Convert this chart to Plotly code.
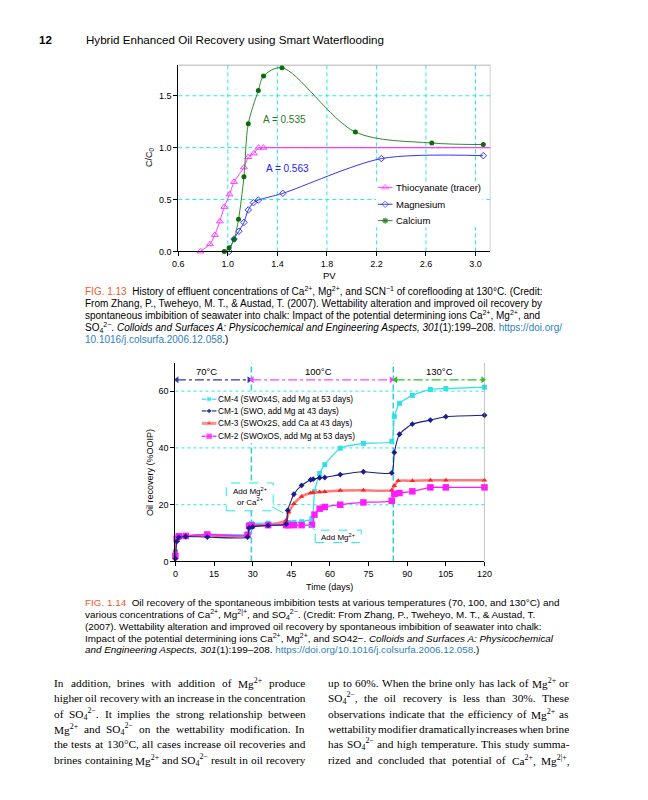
import re
import plotly.graph_objects as go

# The page body adds an 8px margin, so the figure is 8px smaller and all page coords shift by 8.
OX, OY = 8, 8
W, H = 640, 792
def px(x): return (x - OX) / W
def py(y): return 1 - (y - OY) / H

SANS = "Liberation Sans, Arial, sans-serif"
SERIF = "Liberation Serif, Times New Roman, serif"

# ---------------- Chart 1 data (FIG 1.13) ----------------
scn_pv = [0.778, 0.856, 0.895, 0.935, 0.971, 1.013, 1.05, 1.13, 1.165, 1.21, 1.248, 1.287]
scn_c = [0.0, 0.07, 0.16, 0.29, 0.43, 0.55, 0.67, 0.81, 0.91, 0.945, 1.0, 1.0]
tracer_plateau = 1.0
mg_pv = [1.01, 1.05, 1.089, 1.13, 1.165, 1.207, 1.246, 1.444, 2.24, 3.063]
mg_c = [0.0, 0.12, 0.195, 0.28, 0.40, 0.47, 0.495, 0.56, 0.895, 0.923]
ca_pv = [0.971, 1.01, 1.05, 1.086, 1.13, 1.165, 1.246, 1.288, 1.437, 2.03, 2.647, 3.063]
ca_c = [0.0, 0.035, 0.115, 0.31, 0.72, 1.23, 1.55, 1.69, 1.77, 1.15, 1.045, 1.03]
pv_ticks = [0.6, 1.0, 1.4, 1.8, 2.2, 2.6, 3.0]
c_ticks = [0.0, 0.5, 1.0, 1.5]
pv_range = [0.6, 3.12]
c_range = [0, 1.8]

# ---------------- Chart 2 data (FIG 1.14) ----------------
cm4_t = [0, 0.5, 1.3, 4, 12.4, 28, 28.6, 29.6, 36, 43, 44, 46, 49, 53, 54, 56, 58, 64, 73, 84, 85, 87, 92, 99, 105, 120]
cm4_y = [3.4, 7.5, 8.5, 9.0, 9.6, 9.8, 13.0, 13.4, 13.5, 13.6, 13.7, 13.8, 14.0, 15.1, 24.6, 31.0, 34.1, 39.9, 41.6, 42.3, 51.1, 55.7, 58.5, 60.6, 60.9, 61.4]
cm1_t = [0, 0.5, 1.3, 4, 12.4, 28, 28.6, 30, 36, 43, 43.6, 46, 49, 52.5, 53.5, 56, 58, 64, 73, 84, 85, 87, 92, 99, 105, 120]
cm1_y = [1.0, 7.0, 8.5, 8.8, 8.6, 8.6, 11.8, 12.2, 12.7, 13.2, 18.0, 23.7, 26.8, 28.8, 29.0, 29.5, 29.6, 30.6, 31.6, 31.2, 38.4, 44.8, 48.4, 49.8, 51.0, 51.5]
cm3_t = [0, 0.5, 1.3, 4, 12.4, 28, 28.6, 30, 36, 43, 44, 46, 49, 52.5, 53.5, 56, 58, 64, 73, 84, 85, 86.5, 92, 99, 105, 120]
cm3_y = [4.0, 7.8, 8.7, 9.0, 9.2, 9.2, 12.5, 12.7, 12.8, 14.5, 17.3, 20.3, 22.9, 24.1, 24.3, 24.5, 24.6, 25.0, 25.1, 25.1, 26.7, 28.4, 28.4, 28.6, 28.6, 28.6]
cm2_t = [0, 0.5, 1.3, 4, 12.4, 28, 28.6, 29.6, 36, 43, 44, 46, 49, 53, 54, 56, 58, 64, 73, 84, 85, 87, 92, 99, 105, 120]
cm2_y = [2.0, 8.0, 8.9, 9.0, 9.5, 9.3, 12.5, 12.7, 12.8, 12.8, 12.8, 12.8, 12.8, 13.0, 16.5, 18.6, 19.2, 20.0, 20.8, 21.4, 23.8, 24.1, 24.7, 26.1, 26.1, 26.1]
day_ticks = [0, 15, 30, 45, 60, 75, 90, 105, 120]
rec_ticks = [0, 20, 40, 60]
day_range = [0, 120]
rec_range = [0, 70]
temp_labels = ["70°C", "100°C", "130°C"]
temp_start = [0.6, 29.8, 85.5]
temp_end = [28.6, 83.8, 119.4]
temp_label_x = [12, 55.5, 102.5]
temp_arrow_y = 64
temp_colors = ["#3535a8", "#ff44ff", "#22c422"]
temp_change_days = [29.5, 84.6]

# plot-area boxes in page pixels (left, right, top, bottom)
BOX1 = (176, 495, 65, 253)
BOX2 = (173, 489, 365, 565)

def page_to_data(box, xr, yr, x, y):
    l, r, t, b = box
    return (xr[0] + (x - l) / (r - l) * (xr[1] - xr[0]),
            yr[0] + (b - y) / (b - t) * (yr[1] - yr[0]))

fig = go.Figure()

# ---- chart 1 traces ----
C_SCN = "#ff3cff"
C_MG = "#3535ff"
fig.add_trace(go.Scatter(x=[scn_pv[-1], pv_range[1]], y=[tracer_plateau, tracer_plateau], mode="lines",
                         line=dict(color=C_SCN, width=1.2), xaxis="x", yaxis="y", showlegend=False))
fig.add_trace(go.Scatter(x=scn_pv, y=scn_c, mode="lines+markers",
                         line=dict(color=C_SCN, width=1, shape="spline", smoothing=0.4),
                         marker=dict(symbol="triangle-up-open", size=6, color=C_SCN, line=dict(width=1)),
                         xaxis="x", yaxis="y", showlegend=False, cliponaxis=False))
fig.add_trace(go.Scatter(x=mg_pv, y=mg_c, mode="lines+markers",
                         line=dict(color=C_MG, width=1, shape="spline", smoothing=0.8),
                         marker=dict(symbol="diamond-open", size=5, color=C_MG, line=dict(width=1)),
                         xaxis="x", yaxis="y", showlegend=False, cliponaxis=False))
fig.add_trace(go.Scatter(x=ca_pv, y=ca_c, mode="lines+markers",
                         line=dict(color="#2e8b2e", width=1, shape="spline", smoothing=0.9),
                         marker=dict(symbol="circle", size=5, color="#0b6b0b"),
                         xaxis="x", yaxis="y", showlegend=False, cliponaxis=False))

# ---- chart 2 traces ----
C4, C1, C3, C2 = "#30e0e8", "#1c1c8a", "#ff2222", "#ff1aff"
fig.add_trace(go.Scatter(x=cm4_t, y=cm4_y, mode="lines+markers",
                         line=dict(color=C4, width=1.2, shape="spline", smoothing=0.5),
                         marker=dict(symbol="square", size=5, color=C4),
                         xaxis="x2", yaxis="y2", showlegend=False, cliponaxis=False))
fig.add_trace(go.Scatter(x=cm3_t, y=cm3_y, mode="lines+markers",
                         line=dict(color="#ff7a7a", width=2.5, shape="spline", smoothing=0.5),
                         marker=dict(symbol="triangle-up", size=5, color=C3),
                         xaxis="x2", yaxis="y2", showlegend=False, cliponaxis=False))
fig.add_trace(go.Scatter(x=cm2_t, y=cm2_y, mode="lines+markers",
                         line=dict(color=C2, width=1.3, shape="spline", smoothing=0.5),
                         marker=dict(symbol="square", size=6.5, color=C2),
                         xaxis="x2", yaxis="y2", showlegend=False, cliponaxis=False))
fig.add_trace(go.Scatter(x=cm1_t, y=cm1_y, mode="lines+markers",
                         line=dict(color=C1, width=1.1, shape="spline", smoothing=0.5),
                         marker=dict(symbol="diamond", size=4.5, color=C1),
                         xaxis="x2", yaxis="y2", showlegend=False, cliponaxis=False))

# temperature arrows
for i in range(3):
    fig.add_trace(go.Scatter(x=[temp_start[i], temp_end[i]], y=[temp_arrow_y, temp_arrow_y],
                             mode="lines+markers",
                             line=dict(color=temp_colors[i], width=1.2, dash="dashdot"),
                             marker=dict(symbol=["triangle-left", "triangle-right"], size=6, color=temp_colors[i]),
                             xaxis="x2", yaxis="y2", showlegend=False, cliponaxis=False))

# ---- custom legends on full-page overlay axis (page pixel coords) ----
def legend_glyph(x0, x1, yrow, lcolor, lwidth, symbol, msize, mcolor, mline=None):
    mk = dict(symbol=symbol, size=[0, msize, 0], color=mcolor)
    if mline:
        mk["line"] = dict(width=1, color=mline)
    fig.add_trace(go.Scatter(x=[x0, (x0 + x1) / 2, x1], y=[yrow] * 3, mode="lines+markers",
                             line=dict(color=lcolor, width=lwidth), marker=mk,
                             xaxis="x3", yaxis="y3", showlegend=False, cliponaxis=False))

leg1_names = ["Thiocyanate (tracer)", "Magnesium", "Calcium"]
leg1_rows = [188.5, 205.5, 222]
legend_glyph(380, 395, leg1_rows[0], C_SCN, 1, "triangle-up-open", 6, C_SCN, C_SCN)
legend_glyph(380, 395, leg1_rows[1], C_MG, 1, "diamond-open", 5, C_MG, C_MG)
legend_glyph(380, 395, leg1_rows[2], "#2e8b2e", 1, "circle", 5, "#0b6b0b")

leg2_names = ["CM-4 (SWOx4S, add Mg at 53 days)", "CM-1 (SWO, add Mg at 43 days)",
              "CM-3 (SWOx2S, add Ca at 43 days)", "CM-2 (SWOxOS, add Mg at 53 days)"]
leg2_rows = [401.7, 413.5, 426, 439]
legend_glyph(200, 215, leg2_rows[0], C4, 1.2, "square", 5, C4)
legend_glyph(200, 215, leg2_rows[1], C1, 1.1, "diamond", 4.5, C1)
legend_glyph(200, 215, leg2_rows[2], "#ff9090", 3, "triangle-up", 5, C3)
legend_glyph(200, 215, leg2_rows[3], C2, 1.3, "square", 6.5, C2)

annotations = []
PAD = 3  # annotation inner padding for left-anchored text
def text(x, y, s, size=9, color="black", family=SANS, xanchor="left", yanchor="middle", angle=0):
    xx = x - PAD if xanchor == "left" else x
    annotations.append(dict(x=px(xx), y=py(y), xref="paper", yref="paper", text=s, showarrow=False,
                            xanchor=xanchor, yanchor=yanchor, textangle=angle,
                            font=dict(size=size, color=color, family=family)))

for n, r in zip(leg1_names, leg1_rows):
    text(399, r, n, size=9.5)
for n, r in zip(leg2_names, leg2_rows):
    text(218, r, n, size=8.3)

# header
text(40, 40, "<b>12</b>", size=11.5, xanchor="center")
text(83, 40, "Hybrid Enhanced Oil Recovery using Smart Waterflooding", size=11.6)

# chart 1 texts
text(146, 158, "C/C<sub>0</sub>", size=9, xanchor="center", angle=-90)
text(331, 277, "PV", size=9.5, xanchor="center")
annotations.append(dict(x=1.46, y=1.27, xref="x", yref="y", text="A = 0.535", showarrow=False,
                        font=dict(size=10, color="#1e7d1e", family=SANS)))
annotations.append(dict(x=1.48, y=0.80, xref="x", yref="y", text="A = 0.563", showarrow=False,
                        font=dict(size=10, color="#2020ff", family=SANS)))

# chart 2 texts
text(147, 475, "Oil recovery (%OOIP)", size=9, xanchor="center", angle=-90)
text(331, 591, "Time (days)", size=9, xanchor="center")
for lab, lx in zip(temp_labels, temp_label_x):
    annotations.append(dict(x=lx, y=67, xref="x2", yref="y2", text=lab, showarrow=False,
                            font=dict(size=9.5, color="black", family=SANS)))
text(249, 500, "Add Mg<sup>2+</sup><br>or Ca<sup>2+</sup>", size=8, xanchor="center")
text(339.5, 540, "Add Mg<sup>2+</sup>", size=8, xanchor="center")

# captions
ORANGE = "#f0592b"
BLUE = "#2f7fc0"
cap1 = [
    f"<span style='color:{ORANGE}'>FIG. 1.13</span>  History of effluent concentrations of Ca<sup>2+</sup>, Mg<sup>2+</sup>, and SCN<sup>−1</sup> of coreflooding at 130°C. (Credit:",
    "From Zhang, P., Tweheyo, M. T., &amp; Austad, T. (2007). Wettability alteration and improved oil recovery by",
    "spontaneous imbibition of seawater into chalk: Impact of the potential determining ions Ca<sup>2+</sup>, Mg<sup>2+</sup>, and",
    f"SO<sub>4</sub><sup>2−</sup>. <i>Colloids and Surfaces A: Physicochemical and Engineering Aspects, 301</i>(1):199–208. <span style='color:{BLUE}'>https://doi.org/</span>",
    f"<span style='color:{BLUE}'>10.1016/j.colsurfa.2006.12.058</span>.)",
]
cap1_y = [293, 305, 317, 329.5, 341.5]
for s, yy in zip(cap1, cap1_y):
    text(82, yy, s, size=10)

cap2 = [
    f"<span style='color:{ORANGE}'>FIG. 1.14</span>  Oil recovery of the spontaneous imbibition tests at various temperatures (70, 100, and 130°C) and",
    "various concentrations of Ca<sup>2+</sup>, Mg<sup>2|+</sup>, and SO<sub>4</sub><sup>2−</sup>. (Credit: From Zhang, P., Tweheyo, M. T., &amp; Austad, T.",
    "(2007). Wettability alteration and improved oil recovery by spontaneous imbibition of seawater into chalk:",
    "Impact of the potential determining ions Ca<sup>2+</sup>, Mg<sup>2+</sup>, and SO42−. <i>Colloids and Surfaces A: Physicochemical</i>",
    f"<i>and Engineering Aspects, 301</i>(1):199–208. <span style='color:{BLUE}'>https://doi.org/10.1016/j.colsurfa.2006.12.058</span>.)",
]
cap2_y = [606, 618, 630, 642, 654]
for s, yy in zip(cap2, cap2_y):
    text(82, yy, s, size=9.9)

# body text (justified word by word, Times metrics)
body_left = [
    "In addition, brines with addition of Mg<sup>2+</sup> produce",
    "higher oil recovery with an increase in the concentration",
    "of SO<sub>4</sub><sup>2−</sup>. It implies the strong relationship between",
    "Mg<sup>2+</sup> and SO<sub>4</sub><sup>2−</sup> on the wettability modification. In",
    "the tests at 130°C, all cases increase oil recoveries and",
    "brines containing Mg<sup>2+</sup> and SO<sub>4</sub><sup>2−</sup> result in oil recovery",
]
body_right = [
    "up to 60%. When the brine only has lack of Mg<sup>2+</sup> or",
    "SO<sub>4</sub><sup>2−</sup>, the oil recovery is less than 30%. These",
    "observations indicate that the efficiency of Mg<sup>2+</sup> as",
    "wettability modifier dramatically increases when brine",
    "has SO<sub>4</sub><sup>2−</sup> and high temperature. This study summa-",
    "rized and concluded that potential of Ca<sup>2+</sup>, Mg<sup>2|+</sup>,",
]
body_y = [687, 702.5, 718, 733.5, 749, 764.5]
BODY_SIZE = 11.3
LEFT_COL = (50, 306)
RIGHT_COL = (330, 576)

TW = {" ": 250, ".": 250, ",": 250, ":": 278, ";": 278, "-": 333, "%": 833, "(": 333, ")": 333,
      "+": 564, "−": 564, "°": 400, "|": 200}
TW.update(dict(zip("abcdefghijklmnopqrstuvwxyz",
                   [444, 500, 444, 500, 444, 333, 500, 500, 278, 278, 500, 278, 778, 500, 500, 500, 500,
                    333, 389, 278, 500, 500, 722, 500, 500, 444])))
TW.update(dict(zip("ABCDEFGHIJKLMNOPQRSTUVWXYZ",
                   [722, 667, 667, 722, 611, 556, 722, 722, 333, 389, 722, 611, 889, 722, 722, 556, 722,
                    667, 556, 611, 722, 722, 944, 722, 722, 611])))
TW.update({d: 500 for d in "0123456789"})

def times_width(word, size):
    total = 0.0
    scale = 1.0
    for part in re.split(r"(<[^>]+>)", word):
        if part.startswith("<"):
            scale = 1.0 if part.startswith("</") else 0.7
            continue
        for ch in part:
            total += TW.get(ch, 500) * scale
    return total * size / 1000.0

def justified(lines, col, ys):
    x0, x1 = col
    for line, yy in zip(lines, ys):
        words = line.split(" ")
        widths = [times_width(w, BODY_SIZE) for w in words]
        gap = max((x1 - x0 - sum(widths)) / (len(words) - 1), 2.6)
        cx = x0
        for w, wd in zip(words, widths):
            text(cx, yy, w, size=BODY_SIZE, family=SERIF)
            cx += wd + gap

justified(body_left, LEFT_COL, body_y)
justified(body_right, RIGHT_COL, body_y)

# shapes: grids (drawn as shapes so the legend boxes can cover them), frames, callouts
CY = "#22eaea"
shapes = []
for v in pv_ticks[1:]:
    shapes.append(dict(type="line", xref="x", yref="y", x0=v, x1=v, y0=c_range[0], y1=c_range[1],
                       line=dict(color=CY, width=1, dash="4px,3px"), layer="below"))
for v in c_ticks[1:]:
    shapes.append(dict(type="line", xref="x", yref="y", x0=pv_range[0], x1=pv_range[1], y0=v, y1=v,
                       line=dict(color=CY, width=1, dash="4px,3px"), layer="below"))
for v in rec_ticks[1:]:
    shapes.append(dict(type="line", xref="x2", yref="y2", x0=day_range[0], x1=day_range[1], y0=v, y1=v,
                       line=dict(color=CY, width=1, dash="dot"), layer="below"))
for d in temp_change_days:
    shapes.append(dict(type="line", xref="x2", yref="y2", x0=d, x1=d, y0=rec_range[0], y1=rec_range[1],
                       line=dict(color="#30d0d0", width=1.5, dash="6px,3px"), layer="below"))

# legend backgrounds (same subplot layer, drawn after the grid so they cover it)
lx0, ly0 = page_to_data(BOX1, pv_range, c_range, 378, 229)
lx1, ly1 = page_to_data(BOX1, pv_range, c_range, 487, 183)
shapes.append(dict(type="rect", xref="x", yref="y", x0=lx0, x1=lx1, y0=ly0, y1=ly1,
                   line=dict(width=0), fillcolor="white", layer="below"))
lx0, ly0 = page_to_data(BOX2, day_range, rec_range, 197, 446)
lx1, ly1 = page_to_data(BOX2, day_range, rec_range, 362, 396)
shapes.append(dict(type="rect", xref="x2", yref="y2", x0=lx0, x1=lx1, y0=ly0, y1=ly1,
                   line=dict(width=0), fillcolor="white", layer="below"))

shapes += [
    # frames
    dict(type="line", xref="x", yref="y", x0=pv_range[0], x1=pv_range[1], y0=c_range[1], y1=c_range[1],
         line=dict(color="#9a9a9a", width=1.5)),
    dict(type="line", xref="x", yref="y", x0=pv_range[1], x1=pv_range[1], y0=c_range[0], y1=c_range[1],
         line=dict(color="#9a9a9a", width=1)),
    dict(type="line", xref="x2", yref="y2", x0=day_range[1], x1=day_range[1], y0=rec_range[0], y1=rec_range[1],
         line=dict(color="#8a8a8a", width=1)),
    # callout boxes
    dict(type="rect", xref="paper", yref="paper", x0=px(225), x1=px(273), y0=py(514), y1=py(486),
         line=dict(color=CY, width=1, dash="dash"), fillcolor="white", layer="above"),
    dict(type="line", xref="paper", yref="paper", x0=px(272), x1=px(283), y0=py(510), y1=py(516),
         line=dict(color=CY, width=1)),
    dict(type="rect", xref="paper", yref="paper", x0=px(316), x1=px(363), y0=py(546), y1=py(533.5),
         line=dict(color=CY, width=1, dash="dash"), fillcolor="white", layer="above"),
    dict(type="line", xref="paper", yref="paper", x0=px(316), x1=px(308), y0=py(533.5), y1=py(527),
         line=dict(color=CY, width=1)),
]

axis_common = dict(showline=True, linecolor="black", linewidth=1, ticks="outside", ticklen=4,
                   tickcolor="black", zeroline=False, showgrid=False,
                   tickfont=dict(size=9, family=SANS, color="black"), fixedrange=True)

fig.update_layout(
    width=W, height=H, margin=dict(l=0, r=0, t=0, b=0),
    paper_bgcolor="white", plot_bgcolor="rgba(0,0,0,0)",
    showlegend=False,
    xaxis=dict(domain=[px(BOX1[0]), px(BOX1[1])], range=pv_range, tickvals=pv_ticks, tickformat=".1f",
               anchor="y", **axis_common),
    yaxis=dict(domain=[py(BOX1[3]), py(BOX1[2])], range=c_range, tickvals=c_ticks, tickformat=".1f",
               anchor="x", **axis_common),
    xaxis2=dict(domain=[px(BOX2[0]), px(BOX2[1])], range=day_range, tickvals=day_ticks, anchor="y2", **axis_common),
    yaxis2=dict(domain=[py(BOX2[3]), py(BOX2[2])], range=rec_range, tickvals=rec_ticks, anchor="x2", **axis_common),
    xaxis3=dict(domain=[0, 1], range=[OX, OX + W], visible=False, showgrid=False, anchor="y3", fixedrange=True),
    yaxis3=dict(domain=[0, 1], range=[OY + H, OY], visible=False, showgrid=False, anchor="x3", fixedrange=True),
    annotations=annotations,
    shapes=shapes,
)

fig.write_html("out.html", config={"displayModeBar": False})
